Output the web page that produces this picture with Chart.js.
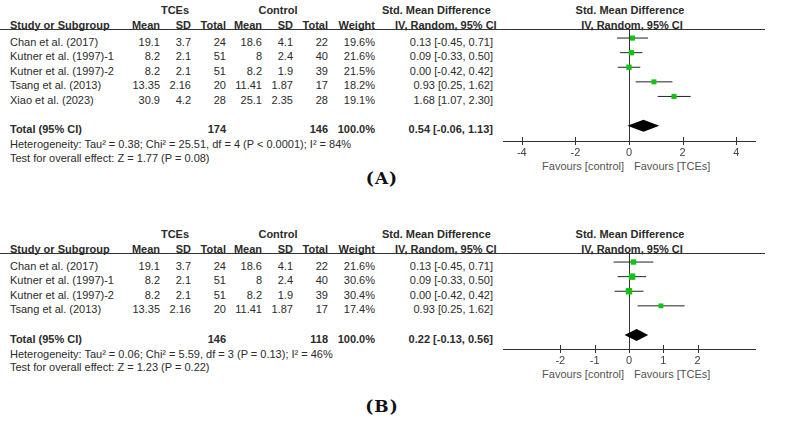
<!DOCTYPE html>
<html>
<head>
<meta charset="utf-8">
<script src="https://cdn.jsdelivr.net/npm/chart.js@4.4.1/dist/chart.umd.min.js"></script>
<style>
  body { margin: 0; background: #fff; }
  #page { position: relative; width: 799px; height: 422px; overflow: hidden; background: #fff;
          font-family: "Liberation Sans", Arial, sans-serif; font-size: 11px; color: #2b2b2b; }
  .txt { position: absolute; white-space: nowrap; line-height: 14px; height: 14px; }
  .b { font-weight: bold; }
  .fav { color: #555; }
  .rule { position: absolute; left: 0; width: 765px; height: 1px; background: #333; }
  .panel-label { position: absolute; white-space: nowrap; font-family: "DejaVu Serif", serif; font-weight: bold;
                 font-size: 17px; letter-spacing: 1px; transform: translate(-50%, -50%); color: #111; }
  canvas { position: absolute; }
</style>
</head>
<body>
<div id="page"></div>
<script>
// ---- panel A data
const studiesA = ['Chan et al. (2017)', 'Kutner et al. (1997)-1', 'Kutner et al. (1997)-2', 'Tsang et al. (2013)', 'Xiao et al. (2023)'];
const tceMeanA = [19.1, 8.2, 8.2, 13.35, 30.9];
const tceSdA = [3.7, 2.1, 2.1, 2.16, 4.2];
const tceTotalA = [24, 51, 51, 20, 28];
const ctrlMeanA = [18.6, 8, 8.2, 11.41, 25.1];
const ctrlSdA = [4.1, 2.4, 1.9, 1.87, 2.35];
const ctrlTotalA = [22, 40, 39, 17, 28];
const weightA = [19.6, 21.6, 21.5, 18.2, 19.1];
const smdA = [0.13, 0.09, 0.00, 0.93, 1.68];
const lowerA = [-0.45, -0.33, -0.42, 0.25, 1.07];
const upperA = [0.71, 0.50, 0.42, 1.62, 2.30];
const totalsA = [174, 146];            // TCEs, control
const summaryA = [0.54, -0.06, 1.13];  // estimate, lower, upper
const ticksA = [-4, -2, 0, 2, 4];
const hetA = 'Heterogeneity: Tau\u00b2 = 0.38; Chi\u00b2 = 25.51, df = 4 (P < 0.0001); I\u00b2 = 84%';
const testA = 'Test for overall effect: Z = 1.77 (P = 0.08)';

// ---- panel B data
const studiesB = ['Chan et al. (2017)', 'Kutner et al. (1997)-1', 'Kutner et al. (1997)-2', 'Tsang et al. (2013)'];
const tceMeanB = [19.1, 8.2, 8.2, 13.35];
const tceSdB = [3.7, 2.1, 2.1, 2.16];
const tceTotalB = [24, 51, 51, 20];
const ctrlMeanB = [18.6, 8, 8.2, 11.41];
const ctrlSdB = [4.1, 2.4, 1.9, 1.87];
const ctrlTotalB = [22, 40, 39, 17];
const weightB = [21.6, 30.6, 30.4, 17.4];
const smdB = [0.13, 0.09, 0.00, 0.93];
const lowerB = [-0.45, -0.33, -0.42, 0.25];
const upperB = [0.71, 0.50, 0.42, 1.62];
const totalsB = [146, 118];
const summaryB = [0.22, -0.13, 0.56];
const ticksB = [-2, -1, 0, 1, 2];
const hetB = 'Heterogeneity: Tau\u00b2 = 0.06; Chi\u00b2 = 5.59, df = 3 (P = 0.13); I\u00b2 = 46%';
const testB = 'Test for overall effect: Z = 1.23 (P = 0.22)';

// column right edges etc. (layout only)
const cols = { mean1: 160, sd1: 191, n1: 226, mean2: 262, sd2: 293, n2: 328, weight: 375, smd: 493 };
const layout = { padTop: 29, rowStep: 14.6, yMin: 0.38, axisH: 30, plotLeft: 470, plotW: 329 };

const panels = [
  { top: 0, plotH: 112, xMax: 4.7, label: '(A)', labelY: 178,
    studies: studiesA, tceMean: tceMeanA, tceSd: tceSdA, tceTotal: tceTotalA,
    ctrlMean: ctrlMeanA, ctrlSd: ctrlSdA, ctrlTotal: ctrlTotalA, weight: weightA,
    smd: smdA, lower: lowerA, upper: upperA, totals: totalsA, summary: summaryA,
    ticks: ticksA, het: hetA, test: testA },
  { top: 224, plotH: 96, xMax: 3.67, label: '(B)', labelY: 406,
    studies: studiesB, tceMean: tceMeanB, tceSd: tceSdB, tceTotal: tceTotalB,
    ctrlMean: ctrlMeanB, ctrlSd: ctrlSdB, ctrlTotal: ctrlTotalB, weight: weightB,
    smd: smdB, lower: lowerB, upper: upperB, totals: totalsB, summary: summaryB,
    ticks: ticksB, het: hetB, test: testB }
];

const fmtCi = (est, lo, hi) => est.toFixed(2) + ' [' + lo.toFixed(2) + ', ' + hi.toFixed(2) + ']';

const app = {

  page: document.getElementById('page'),

  addText: function(text, x, y, align, cls) {
    const el = document.createElement('div');
    el.className = 'txt' + (cls ? ' ' + cls : '');
    el.textContent = text;
    el.style.top = (y - 7) + 'px';
    if (align === 'right') {
      el.style.right = (799 - x) + 'px';
    } else if (align === 'center') {
      el.style.left = x + 'px';
      el.style.transform = 'translateX(-50%)';
    } else {
      el.style.left = x + 'px';
    }
    this.page.appendChild(el);
  },

  // pixel row of a y value, same mapping the chart uses
  rowPx: function(panel, v) {
    return panel.top + layout.padTop + (v - layout.yMin) * layout.rowStep;
  },

  initTable: function(panel) {
    const thisApp = this;
    const t = panel.top;

    // headers
    thisApp.addText('TCEs', 175, t + 10, 'center', 'b');
    thisApp.addText('Control', 278, t + 10, 'center', 'b');
    thisApp.addText('Std. Mean Difference', 382, t + 10, 'left', 'b');
    thisApp.addText('Std. Mean Difference', 630, t + 10, 'center', 'b');
    const y2 = t + 24.5;
    thisApp.addText('Study or Subgroup', 10, y2, 'left', 'b');
    thisApp.addText('Mean', cols.mean1, y2, 'right', 'b');
    thisApp.addText('SD', cols.sd1, y2, 'right', 'b');
    thisApp.addText('Total', cols.n1, y2, 'right', 'b');
    thisApp.addText('Mean', cols.mean2, y2, 'right', 'b');
    thisApp.addText('SD', cols.sd2, y2, 'right', 'b');
    thisApp.addText('Total', cols.n2, y2, 'right', 'b');
    thisApp.addText('Weight', cols.weight, y2, 'right', 'b');
    thisApp.addText('IV, Random, 95% CI', 395, y2, 'left', 'b');
    thisApp.addText('IV, Random, 95% CI', 632, y2, 'center', 'b');

    const rule = document.createElement('div');
    rule.className = 'rule';
    rule.style.top = (t + layout.padTop) + 'px';
    thisApp.page.appendChild(rule);

    // study rows
    panel.studies.forEach(function(name, i) {
      const y = thisApp.rowPx(panel, i + 1) + 3.5;
      thisApp.addText(name, 10, y, 'left');
      thisApp.addText(String(panel.tceMean[i]), cols.mean1, y, 'right');
      thisApp.addText(String(panel.tceSd[i]), cols.sd1, y, 'right');
      thisApp.addText(String(panel.tceTotal[i]), cols.n1, y, 'right');
      thisApp.addText(String(panel.ctrlMean[i]), cols.mean2, y, 'right');
      thisApp.addText(String(panel.ctrlSd[i]), cols.sd2, y, 'right');
      thisApp.addText(String(panel.ctrlTotal[i]), cols.n2, y, 'right');
      thisApp.addText(panel.weight[i].toFixed(1) + '%', cols.weight, y, 'right');
      thisApp.addText(fmtCi(panel.smd[i], panel.lower[i], panel.upper[i]), cols.smd, y, 'right');
    });

    // total row
    const yt = thisApp.rowPx(panel, panel.studies.length + 2) + 3.5;
    thisApp.addText('Total (95% CI)', 10, yt, 'left', 'b');
    thisApp.addText(String(panel.totals[0]), cols.n1, yt, 'right', 'b');
    thisApp.addText(String(panel.totals[1]), cols.n2, yt, 'right', 'b');
    thisApp.addText('100.0%', cols.weight, yt, 'right', 'b');
    thisApp.addText(fmtCi(panel.summary[0], panel.summary[1], panel.summary[2]), cols.smd, yt, 'right', 'b');
    thisApp.addText(panel.het, 10, yt + 15, 'left');
    thisApp.addText(panel.test, 10, yt + 28.5, 'left');

    // favours
    const axisY = t + layout.padTop + panel.plotH;
    thisApp.addText('Favours [control]', 624, axisY + 24.5, 'right', 'fav');
    thisApp.addText('Favours [TCEs]', 634, axisY + 24.5, 'left', 'fav');

    const lab = document.createElement('div');
    lab.className = 'panel-label';
    lab.textContent = panel.label;
    lab.style.left = '382px';
    lab.style.top = panel.labelY + 'px';
    thisApp.page.appendChild(lab);
  },

  initChart: function(panel) {
    const canvas = document.createElement('canvas');
    const h = layout.padTop + panel.plotH + layout.axisH;
    canvas.width = layout.plotW;
    canvas.height = h;
    canvas.style.left = layout.plotLeft + 'px';
    canvas.style.top = panel.top + 'px';
    canvas.style.width = layout.plotW + 'px';
    canvas.style.height = h + 'px';
    this.page.appendChild(canvas);

    const totalRow = panel.studies.length + 2;
    const yMax = layout.yMin + panel.plotH / layout.rowStep;

    const forestPlugin = {
      id: 'forest',
      beforeDatasetsDraw: function(chart) {
        const {ctx, chartArea, scales: {x}} = chart;
        const x0 = Math.round(x.getPixelForValue(0)) + 0.5;
        ctx.save();
        ctx.strokeStyle = '#333';
        ctx.lineWidth = 1;
        ctx.beginPath();
        ctx.moveTo(x0, chartArea.top);
        ctx.lineTo(x0, chartArea.bottom);
        ctx.stroke();
        ctx.restore();
      },
      afterDatasetsDraw: function(chart) {
        const {ctx, scales: {x, y}} = chart;
        const yc = y.getPixelForValue(totalRow);
        ctx.save();
        ctx.fillStyle = '#000';
        ctx.beginPath();
        ctx.moveTo(x.getPixelForValue(panel.summary[1]), yc);
        ctx.lineTo(x.getPixelForValue(panel.summary[0]), yc - 6);
        ctx.lineTo(x.getPixelForValue(panel.summary[2]), yc);
        ctx.lineTo(x.getPixelForValue(panel.summary[0]), yc + 6);
        ctx.closePath();
        ctx.fill();
        ctx.restore();
      },
      afterDraw: function(chart) {
        const {ctx, chartArea, scales: {x}} = chart;
        ctx.save();
        ctx.strokeStyle = '#333';
        ctx.lineWidth = 1;
        panel.ticks.forEach(function(v) {
          const xp = Math.round(x.getPixelForValue(v)) + 0.5;
          ctx.beginPath();
          ctx.moveTo(xp, chartArea.bottom - 4);
          ctx.lineTo(xp, chartArea.bottom + 4);
          ctx.stroke();
        });
        ctx.restore();
      }
    };

    const datasets = [{
      data: panel.smd.map((v, i) => ({ x: v, y: i + 1 })),
      pointStyle: 'rect',
      pointRadius: panel.weight.map(w => 0.82 * Math.sqrt(w)),
      backgroundColor: '#12c412',
      borderWidth: 0
    }];
    panel.lower.forEach(function(lo, i) {
      datasets.push({
        data: [{ x: lo, y: i + 1 }, { x: panel.upper[i], y: i + 1 }],
        showLine: true,
        borderColor: '#222',
        borderWidth: 1,
        pointRadius: 0
      });
    });

    // eslint-disable-next-line no-undef
    new Chart(canvas.getContext('2d'), {
      type: 'scatter',
      data: { datasets: datasets },
      plugins: [forestPlugin],
      options: {
        responsive: false,
        animation: false,
        devicePixelRatio: 1,
        events: [],
        layout: { padding: { top: layout.padTop, left: 33, right: 44, bottom: 0 } },
        plugins: { legend: { display: false }, tooltip: { enabled: false } },
        scales: {
          x: {
            type: 'linear',
            min: -panel.xMax,
            max: panel.xMax,
            afterFit: function(s) { s.height = layout.axisH; },
            afterBuildTicks: function(s) { s.ticks = panel.ticks.map(v => ({ value: v })); },
            grid: { display: false, drawTicks: false },
            border: { display: true, color: '#333', width: 1 },
            ticks: {
              padding: 5,
              color: '#444',
              font: { family: 'Liberation Sans', size: 11 },
              callback: v => String(v)
            }
          },
          y: { type: 'linear', reverse: true, min: layout.yMin, max: yMax, display: false }
        }
      }
    });
  },

  start: function() {
    const thisApp = this;
    panels.forEach(function(panel) {
      thisApp.initTable(panel);
      thisApp.initChart(panel);
    });
  }
};

app.start();
</script>
</body>
</html>
